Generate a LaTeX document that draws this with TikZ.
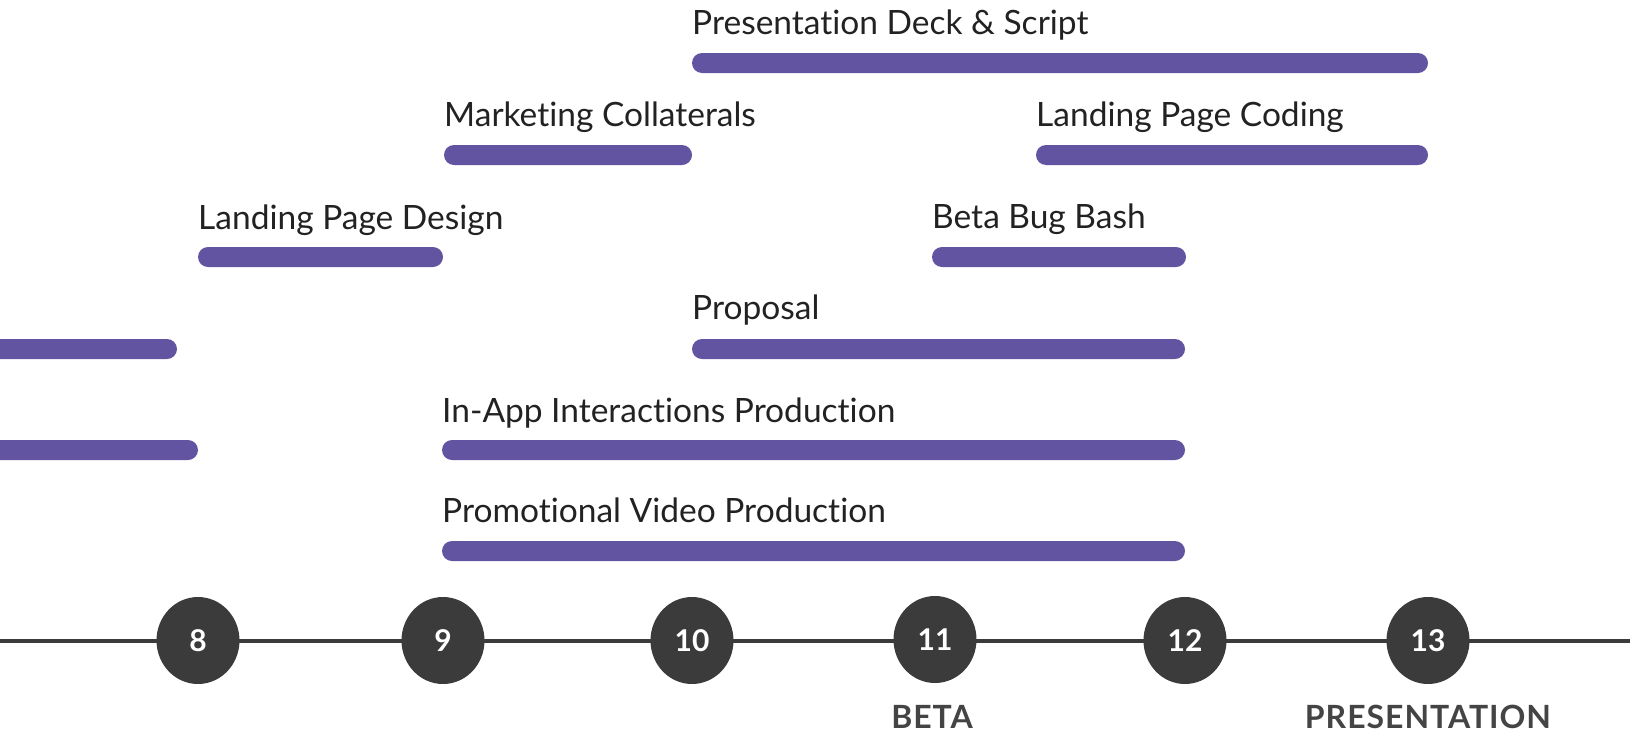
\documentclass[tikz,border=0pt]{standalone}
\usepackage{fontspec}
\setmainfont{Lato}[Ligatures=NoCommon]
\usetikzlibrary{shapes.geometric}
\definecolor{barpurple}{HTML}{6254A0}
\definecolor{dotgray}{HTML}{3B3B3B}
\definecolor{txtdark}{HTML}{222222}
\definecolor{mstgray}{HTML}{444444}
\tikzset{
  taskbar/.style={fill=barpurple, rounded corners=10pt},
  tasklbl/.style={anchor=base west, inner sep=0pt, text=txtdark, font=\fontsize{33.5}{40}\selectfont},
  weekdot/.style={ellipse, fill=dotgray, minimum width=83pt, minimum height=87pt, inner sep=0pt, text=white, font=\fontsize{30}{36}\selectfont\bfseries},
  mstlbl/.style={anchor=base, inner sep=0pt, text=mstgray, font=\fontsize{32}{38}\selectfont\bfseries\addfontfeatures{LetterSpace=3}},
  tline/.style={draw=dotgray, line width=4.5pt}
}
\begin{document}
\begin{tikzpicture}[x=1pt,y=-1pt]
\useasboundingbox (0,0) rectangle (1630,734);
% timeline
\coordinate (tlL) at (-5,641);
\coordinate (tlR) at (1635,641);
\draw[tline] (tlL) -- (tlR);
% week dots
\node[weekdot] (w8) at (198,640.5) {8};
\node[weekdot] (w9) at (443,640.5) {9};
\node[weekdot] (w10) at (692,640.5) {10};
\node[weekdot] (w11) at (935,639.5) {11};
\node[weekdot] (w12) at (1185,640.5) {12};
\node[weekdot] (w13) at (1428,640.5) {13};
% milestones
\node[mstlbl] (beta) at (932,728) {BETA};
\node[mstlbl] (pres) at (1428,728) {PRESENTATION};
% bars
\fill[taskbar] (692,53) rectangle (1428,73);
\fill[taskbar] (444,145) rectangle (692,165);
\fill[taskbar] (1036,145) rectangle (1428,165);
\fill[taskbar] (198,247) rectangle (443,267);
\fill[taskbar] (932,247) rectangle (1186,267);
\fill[taskbar] (-30,339) rectangle (177,359);
\fill[taskbar] (692,339) rectangle (1185,359);
\fill[taskbar] (-30,440) rectangle (198,460);
\fill[taskbar] (442,440) rectangle (1185,460);
\fill[taskbar] (442,541) rectangle (1185,561);
% labels
\node[tasklbl] (l1) at (692,34.5) {Presentation Deck \& Script};
\node[tasklbl] (l2) at (444,126.5) {Marketing Collaterals};
\node[tasklbl] (l3) at (1036,126.5) {Landing Page Coding};
\node[tasklbl] (l4) at (198,229) {Landing Page Design};
\node[tasklbl] (l5) at (932,228.5) {Beta Bug Bash};
\node[tasklbl] (l6) at (692,319.5) {Proposal};
\node[tasklbl] (l7) at (442,422) {In-App Interactions Production};
\node[tasklbl] (l8) at (442,522.5) {Promotional Video Production};
\end{tikzpicture}
\end{document}
